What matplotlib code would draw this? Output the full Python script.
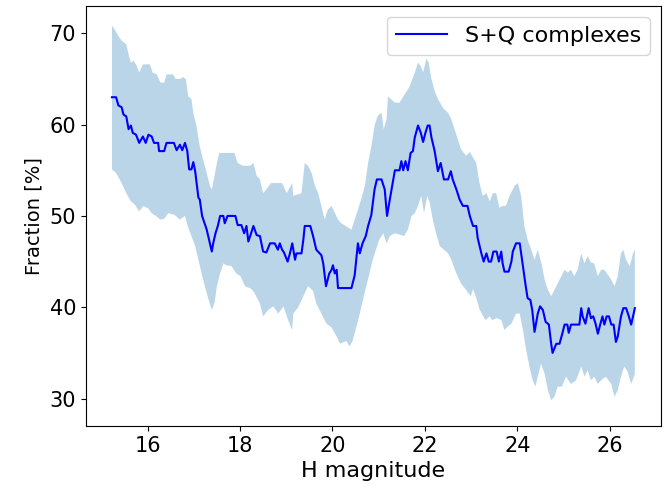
# Running S+Q complex fraction versus H magnitude, with its uncertainty band.

import numpy as np
from matplotlib import pyplot as plt

label = 'S+Q complexes'

# running fraction (step corners)
mag = [
    15.23, 15.32, 15.37, 15.44, 15.48, 15.54, 15.59, 15.64, 15.68, 15.75,
    15.82, 15.90, 15.96, 16.02, 16.09, 16.14, 16.23, 16.25, 16.36, 16.41,
    16.57, 16.63, 16.70, 16.75, 16.81, 16.86, 16.90, 16.95, 16.99, 17.03,
    17.10, 17.13, 17.18, 17.28, 17.35, 17.39, 17.42, 17.47, 17.52, 17.57,
    17.64, 17.67, 17.73, 17.90, 17.95, 18.03, 18.09, 18.14, 18.18, 18.24,
    18.29, 18.36, 18.43, 18.50, 18.57, 18.65, 18.75, 18.82, 18.86, 18.91,
    18.95, 19.03, 19.08, 19.13, 19.19, 19.22, 19.33, 19.37, 19.40, 19.52,
    19.58, 19.65, 19.76, 19.80, 19.86, 19.93, 19.98, 20.01, 20.05, 20.09,
    20.12, 20.41, 20.48, 20.55, 20.59, 20.65, 20.72, 20.77, 20.84, 20.91,
    20.96, 21.06, 21.13, 21.18, 21.24, 21.35, 21.45, 21.49, 21.53, 21.58,
    21.63, 21.69, 21.74, 21.78, 21.85, 21.91, 21.96, 22.01, 22.06, 22.10,
    22.14, 22.21, 22.28, 22.34, 22.41, 22.50, 22.56, 22.60, 22.68, 22.75,
    22.82, 22.92, 22.97, 23.04, 23.11, 23.14, 23.22, 23.27, 23.33, 23.38,
    23.43, 23.48, 23.55, 23.60, 23.65, 23.68, 23.72, 23.81, 23.87, 23.90,
    23.97, 24.05, 24.10, 24.18, 24.22, 24.28, 24.32, 24.37, 24.44, 24.49,
    24.55, 24.61, 24.68, 24.73, 24.76, 24.84, 24.91, 24.97, 25.02, 25.08,
    25.11, 25.16, 25.27, 25.34, 25.38, 25.41, 25.47, 25.54, 25.59, 25.64,
    25.69, 25.74, 25.79, 25.84, 25.88, 25.93, 25.98, 26.03, 26.08, 26.13,
    26.17, 26.24, 26.29, 26.35, 26.41, 26.46, 26.50, 26.54,
]
frac = [
    63.0, 63.0, 62.1, 61.9, 61.1, 60.9, 59.5, 59.9, 59.1, 58.9,
    58.0, 58.7, 58.0, 58.9, 58.7, 58.0, 58.0, 57.1, 57.1, 58.0,
    58.0, 57.2, 57.8, 57.2, 58.0, 57.1, 55.1, 55.1, 55.9, 54.9,
    52.0, 51.8, 50.0, 48.5, 47.0, 46.1, 47.0, 48.1, 48.9, 50.0,
    50.0, 49.2, 50.0, 50.0, 49.0, 49.0, 48.1, 48.9, 47.2, 48.1,
    48.9, 47.9, 47.8, 46.1, 46.0, 47.0, 47.0, 46.3, 47.0, 46.3,
    46.0, 45.0, 45.9, 47.0, 45.2, 45.9, 45.9, 47.4, 48.9, 48.9,
    47.8, 46.3, 45.7, 44.8, 42.3, 43.7, 44.1, 44.6, 43.7, 44.1,
    42.1, 42.1, 43.5, 47.0, 45.9, 47.0, 47.8, 48.9, 50.1, 52.9,
    54.0, 54.0, 52.9, 50.0, 51.8, 55.0, 55.0, 56.0, 55.0, 56.0,
    55.0, 56.9, 57.1, 58.6, 59.9, 59.1, 58.1, 59.1, 59.9, 59.9,
    58.6, 57.1, 54.9, 55.8, 54.0, 54.0, 54.9, 54.0, 52.9, 51.8,
    51.1, 51.1, 50.0, 48.9, 48.9, 47.6, 45.9, 45.0, 45.9, 45.0,
    45.0, 46.1, 46.1, 45.0, 46.1, 44.8, 43.9, 43.9, 45.0, 46.1,
    47.0, 47.0, 45.2, 42.3, 41.0, 40.8, 39.7, 37.3, 39.3, 40.1,
    39.7, 38.4, 38.1, 36.0, 35.0, 36.0, 36.0, 37.1, 38.1, 38.1,
    37.2, 38.1, 38.1, 38.1, 39.9, 39.0, 38.2, 39.9, 38.8, 39.0,
    38.2, 37.1, 38.1, 39.0, 38.1, 39.0, 39.0, 38.1, 38.1, 36.2,
    36.8, 39.0, 39.9, 39.9, 39.0, 38.1, 39.0, 39.9,
]

# upper edge of the band
up_mag = [
    15.23, 15.28, 15.37, 15.44, 15.54, 15.59, 15.64, 15.70, 15.77, 15.82,
    15.90, 16.05, 16.11, 16.20, 16.28, 16.36, 16.41, 16.55, 16.61, 16.70,
    16.77, 16.83, 16.88, 16.95, 16.99, 17.06, 17.13, 17.20, 17.28, 17.35,
    17.39, 17.45, 17.50, 17.55, 17.73, 17.88, 17.95, 18.06, 18.22, 18.29,
    18.36, 18.43, 18.50, 18.57, 18.67, 18.75, 18.91, 19.01, 19.13, 19.15,
    19.33, 19.40, 19.47, 19.55, 19.62, 19.69, 19.76, 19.83, 19.90, 19.98,
    20.12, 20.19, 20.41, 20.48, 20.55, 20.62, 20.70, 20.77, 20.84, 20.91,
    20.98, 21.06, 21.11, 21.17, 21.20, 21.35, 21.45, 21.67, 21.78, 21.85,
    21.91, 21.96, 22.03, 22.08, 22.14, 22.21, 22.28, 22.41, 22.50, 22.57,
    22.64, 22.71, 22.78, 22.89, 22.97, 23.11, 23.18, 23.25, 23.33, 23.40,
    23.47, 23.54, 23.61, 23.68, 23.75, 23.83, 23.94, 24.01, 24.08, 24.15,
    24.22, 24.30, 24.37, 24.44, 24.52, 24.59, 24.66, 24.73, 24.80, 24.87,
    24.95, 25.02, 25.09, 25.16, 25.23, 25.30, 25.38, 25.45, 25.52, 25.59,
    25.66, 25.74, 25.81, 25.88, 25.95, 26.03, 26.10, 26.17, 26.24, 26.29,
    26.35, 26.43, 26.50, 26.54,
]
up_frac = [
    70.8, 70.5, 69.7, 69.2, 68.8, 67.7, 66.8, 67.0, 66.4, 65.7,
    66.6, 66.6, 65.7, 65.5, 64.6, 64.6, 65.5, 65.5, 65.0, 65.0,
    65.2, 65.0, 63.1, 62.8, 61.3, 59.8, 57.6, 56.2, 54.7, 53.3,
    52.9, 54.4, 55.8, 56.9, 56.9, 56.9, 55.8, 55.5, 55.5, 55.8,
    54.4, 54.0, 52.5, 52.9, 53.6, 53.6, 53.6, 52.5, 53.6, 52.2,
    52.5, 55.8, 55.5, 54.7, 53.3, 52.5, 51.1, 49.6, 50.7, 51.1,
    49.6, 49.2, 48.5, 49.6, 50.7, 51.8, 53.3, 55.8, 57.6, 59.9,
    61.0, 61.3, 59.5, 60.6, 63.1, 62.4, 62.4, 64.2, 65.7, 66.8,
    66.4, 65.7, 67.2, 66.8, 65.0, 63.7, 62.8, 61.7, 61.3, 60.6,
    59.5, 58.4, 57.3, 56.6, 57.0, 55.8, 53.6, 52.2, 52.5, 51.6,
    52.5, 52.5, 50.9, 51.1, 51.1, 52.2, 53.3, 53.6, 52.2, 48.9,
    47.4, 46.3, 45.2, 46.3, 44.8, 43.0, 41.9, 41.2, 41.9, 42.6,
    43.4, 44.1, 43.8, 44.1, 43.4, 44.1, 45.9, 44.8, 45.6, 44.9,
    44.8, 43.4, 44.1, 44.1, 43.6, 43.0, 42.3, 43.4, 45.9, 46.3,
    45.2, 44.5, 45.9, 46.3,
]

# lower edge of the band
lo_mag = [
    15.23, 15.32, 15.44, 15.54, 15.64, 15.73, 15.82, 15.91, 16.02, 16.09,
    16.18, 16.28, 16.36, 16.45, 16.59, 16.70, 16.81, 16.88, 16.95, 17.03,
    17.10, 17.17, 17.24, 17.31, 17.39, 17.45, 17.50, 17.57, 17.64, 17.70,
    17.82, 17.92, 18.01, 18.11, 18.25, 18.32, 18.43, 18.50, 18.61, 18.72,
    18.83, 18.94, 19.04, 19.13, 19.15, 19.26, 19.37, 19.47, 19.58, 19.65,
    19.76, 19.87, 19.98, 20.09, 20.16, 20.30, 20.37, 20.44, 20.52, 20.59,
    20.66, 20.73, 20.80, 20.87, 20.94, 21.01, 21.10, 21.17, 21.24, 21.35,
    21.55, 21.63, 21.71, 21.78, 21.85, 21.92, 21.98, 22.05, 22.10, 22.17,
    22.24, 22.32, 22.41, 22.50, 22.57, 22.68, 22.78, 22.89, 22.99, 23.04,
    23.11, 23.18, 23.25, 23.31, 23.40, 23.45, 23.55, 23.65, 23.72, 23.79,
    23.87, 23.97, 24.05, 24.12, 24.19, 24.26, 24.33, 24.39, 24.44, 24.51,
    24.59, 24.66, 24.73, 24.80, 24.87, 24.96, 25.05, 25.16, 25.27, 25.38,
    25.45, 25.52, 25.59, 25.66, 25.74, 25.81, 25.91, 26.03, 26.10, 26.17,
    26.24, 26.31, 26.38, 26.46, 26.54,
]
lo_frac = [
    55.1, 54.7, 53.6, 52.5, 51.6, 51.2, 50.5, 51.1, 50.8, 50.3,
    50.0, 49.6, 49.7, 50.3, 50.1, 49.6, 50.0, 48.7, 47.8, 46.7,
    45.2, 43.7, 42.3, 41.0, 39.7, 40.5, 42.3, 43.7, 44.8, 44.6,
    44.5, 43.7, 43.4, 42.3, 42.0, 41.5, 40.4, 39.0, 39.7, 40.1,
    39.3, 40.1, 38.6, 37.5, 39.3, 40.0, 41.2, 42.3, 41.8, 40.4,
    39.3, 38.2, 37.8, 36.8, 36.0, 36.3, 35.7, 36.4, 37.9, 39.3,
    40.8, 42.3, 43.7, 45.2, 46.3, 47.4, 48.1, 47.0, 47.8, 48.1,
    47.8, 48.5, 50.0, 50.3, 51.1, 52.2, 50.3, 52.2, 51.5, 49.6,
    48.1, 46.7, 46.3, 45.9, 45.2, 43.7, 42.6, 41.9, 41.2, 42.0,
    41.0, 39.8, 39.1, 38.6, 39.0, 38.6, 38.8, 38.6, 37.5, 37.9,
    38.2, 39.3, 39.3, 37.5, 35.3, 33.5, 32.0, 31.3, 32.4, 33.8,
    32.7, 30.9, 29.8, 30.2, 31.3, 31.3, 32.4, 31.6, 32.0, 33.5,
    32.4, 33.1, 32.0, 32.4, 31.6, 32.0, 32.4, 31.6, 30.2, 30.9,
    32.4, 33.5, 33.0, 31.6, 32.7,
]

fig, ax = plt.subplots(figsize=(6.65, 4.93), dpi=100)
fig.subplots_adjust(left=0.129, right=0.994, top=0.988, bottom=0.136)

band_x = np.concatenate([up_mag, lo_mag[::-1]])
band_y = np.concatenate([up_frac, lo_frac[::-1]])
ax.fill(band_x, band_y, color='C0', alpha=0.3, lw=0)
ax.plot(mag, frac, color='blue', lw=1.5, label=label)

ax.set_ylim(27, 73)
ax.set_xticks([16, 18, 20, 22, 24, 26])
ax.set_yticks([30, 40, 50, 60, 70])
ax.tick_params(labelsize=15)
ax.set_xlabel('H magnitude', fontsize=16)
ax.set_ylabel('Fraction [%]', fontsize=14)
ax.legend(loc='upper right', fontsize=16, handlelength=2.3)

fig.savefig('out.png')
